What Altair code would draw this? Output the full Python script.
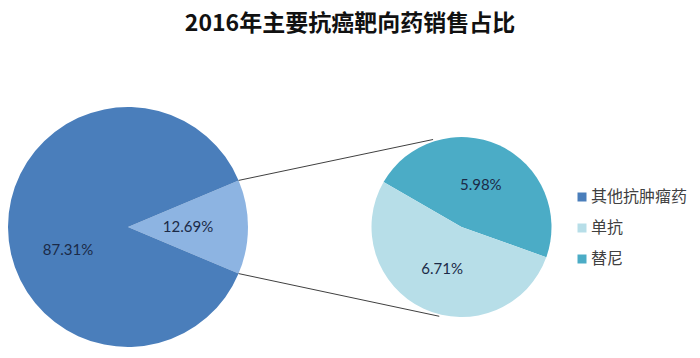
import math
import altair as alt
import pandas as pd

# ---------------- data ----------------
title_text = "2016年主要抗癌靶向药销售占比"
main_categories = ["靶向药", "其他抗肿瘤药"]
main_shares = [12.69, 87.31]
sub_categories = ["替尼", "单抗"]
sub_shares = [5.98, 6.71]
legend_items = ["其他抗肿瘤药", "单抗", "替尼"]
color_domain = ["其他抗肿瘤药", "单抗", "替尼", "靶向药"]
color_range = ["#4A7EBB", "#B7DEE8", "#4BACC6", "#8DB4E2"]

# ---------------- layout ----------------
TOP = 40
W, H = 684, 342 - TOP
BIG_CX, BIG_CY, BIG_R = 120, 219 - TOP, 120
SUB_CX, SUB_CY, SUB_R = 453.5, 219 - TOP, 90
LABEL_FONT = "Lato"
LABEL_COLOR = "#1B2A47"
CJK = "Noto Sans CJK SC"

main_df = pd.DataFrame({"category": main_categories, "share": main_shares,
                        "ord": list(range(len(main_categories)))})
main_df["label"] = main_df["share"].map(lambda v: f"{v:.2f}%")
sub_df = pd.DataFrame({"category": sub_categories, "share": sub_shares,
                       "ord": list(range(len(sub_categories)))})
sub_df["label"] = sub_df["share"].map(lambda v: f"{v:.2f}%")

# big pie: aggregated slice centred on 3 o'clock
wedge = main_shares[0] / sum(main_shares) * 2 * math.pi
big_start = math.pi / 2 - wedge / 2
big_scale = alt.Scale(range=[big_start, big_start + 2 * math.pi], nice=False, zero=True)
sub_start = 5 * math.pi / 3
sub_scale = alt.Scale(range=[sub_start, sub_start + 2 * math.pi], nice=False, zero=True)

color_scale = alt.Scale(domain=color_domain, range=color_range)
legend = alt.Legend(values=legend_items, title=None, orient="none", legendX=566, legendY=181 - TOP,
                    symbolType="square", symbolSize=81, symbolStrokeWidth=0,
                    labelFontSize=16, labelFont=CJK, labelColor="#404040",
                    rowPadding=15, labelOffset=1, labelLimit=200)

big_arc = alt.Chart(main_df).mark_arc(outerRadius=BIG_R, strokeWidth=0).encode(
    theta=alt.Theta("share:Q", stack=True, scale=big_scale),
    order=alt.Order("ord:Q"),
    color=alt.Color("category:N", scale=color_scale, legend=legend),
    x=alt.value(BIG_CX), y=alt.value(BIG_CY),
)
sub_arc = alt.Chart(sub_df).mark_arc(outerRadius=SUB_R, strokeWidth=0).encode(
    theta=alt.Theta("share:Q", stack=True, scale=sub_scale),
    order=alt.Order("ord:Q"),
    color=alt.Color("category:N", scale=color_scale, legend=legend),
    x=alt.value(SUB_CX), y=alt.value(SUB_CY),
)

def big_label(cat, dy):
    return alt.Chart(main_df).mark_text(radius=60, dy=dy, font=LABEL_FONT, fontSize=15,
                                        color=LABEL_COLOR).encode(
        theta=alt.Theta("share:Q", stack=True, scale=big_scale),
        order=alt.Order("ord:Q"),
        text=alt.condition(alt.datum.category == cat, "label:N", alt.value("")),
        x=alt.value(BIG_CX), y=alt.value(BIG_CY),
    )

big_text_a = big_label(main_categories[0], 0)
big_text_b = big_label(main_categories[1], 23)

sub_text = alt.Chart(sub_df).mark_text(radius=46, font=LABEL_FONT, fontSize=15,
                                       color=LABEL_COLOR).encode(
    theta=alt.Theta("share:Q", stack=True, scale=sub_scale),
    order=alt.Order("ord:Q"),
    text="label:N",
    x=alt.value(SUB_CX), y=alt.value(SUB_CY),
)

# connector lines from aggregated wedge edges to the secondary pie
def pt(cx, cy, r, t):
    return cx + r * math.sin(t), cy - r * math.cos(t)

p1 = pt(BIG_CX, BIG_CY, BIG_R, big_start)
p2 = pt(BIG_CX, BIG_CY, BIG_R, big_start + wedge)
q1 = pt(SUB_CX, SUB_CY, SUB_R + 2, math.radians(-18))
q2 = pt(SUB_CX, SUB_CY, SUB_R + 2, math.radians(194))
conn_df = pd.DataFrame({"x": [p1[0], p2[0]], "y": [p1[1], p2[1]],
                        "x2": [q1[0], q2[0]], "y2": [q1[1], q2[1]]})
connectors = alt.Chart(conn_df).mark_rule(color="#404040", strokeWidth=1).encode(
    x=alt.X("x:Q", scale=None, axis=None), y=alt.Y("y:Q", scale=None, axis=None),
    x2="x2:Q", y2="y2:Q",
)

chart = alt.layer(big_arc, sub_arc, connectors, big_text_a, big_text_b, sub_text).resolve_scale(
    theta="independent"
).properties(
    title=alt.TitleParams(title_text, font=CJK, fontSize=23, fontWeight="bold", color="#111111",
                          anchor="middle", frame="group", baseline="middle", offset=1),
    width=W, height=H, autosize=alt.AutoSizeParams(type="none"),
    padding={"left": 0, "right": 0, "top": TOP, "bottom": 0},
    background="white",
).configure_view(stroke=None)

chart.save("out.html", embed_options={"renderer": "svg", "actions": False})
